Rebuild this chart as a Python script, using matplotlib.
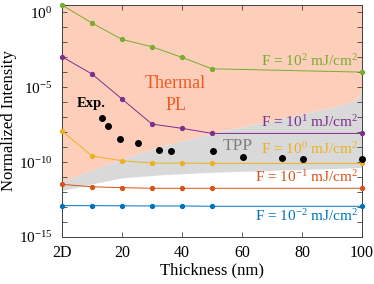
import numpy as np
import matplotlib
matplotlib.use('Agg')
import matplotlib.pyplot as plt
from matplotlib.ticker import FixedLocator, LogFormatterSciNotation, NullFormatter

plt.rcParams['font.family'] = ['Liberation Serif', 'DejaVu Serif']
plt.rcParams['mathtext.fontset'] = 'custom'
plt.rcParams['mathtext.rm'] = 'Liberation Serif'
plt.rcParams['mathtext.it'] = 'Liberation Serif:italic'
plt.rcParams['mathtext.bf'] = 'Liberation Serif:bold'

# thickness (nm), 0 = 2D
thick = [0, 10, 20, 30, 40, 50, 100]

# log10 of normalized intensity for each fluence
log_f2 = [0.47, -0.73, -1.82, -2.31, -3.02, -3.78, -4.0]
log_f1 = [-2.98, -4.13, -5.8, -7.47, -7.75, -8.09, -8.09]
log_f0 = [-7.93, -9.6, -9.91, -10.07, -10.07, -10.09, -10.09]
log_fm1 = [-11.49, -11.65, -11.71, -11.75, -11.75, -11.75, -11.75]
log_fm2 = [-12.91, -12.91, -12.92, -12.93, -12.93, -12.95, -12.95]

# experiment
exp_x = [13.2, 15.4, 19.3, 25.2, 32.3, 36.2, 50.2, 60.2, 73.2, 80.2, 100]
exp_log = [-7.09, -7.58, -8.47, -8.75, -9.18, -9.29, -9.29, -9.69, -9.75, -9.8, -9.78]

# TPP band
band_x = [0, 10, 20, 33, 50, 66, 79, 93, 98, 99.3, 100]
band_lo = [-11.9, -11.45, -11.05, -10.85, -10.68, -10.58, -10.5, -10.42, -10.38, -10.36, -10.35]
band_hi = [-11.3, -10.55, -9.8, -8.95, -8.07, -7.4, -6.85, -6.2, -5.85, -5.45, -4.93]

colors = ['#77AC30', '#7E2F8E', '#EDB120', '#D95319', '#0072BD']
series = [log_f2, log_f1, log_f0, log_fm1, log_fm2]
labels = [r'F = 10$^{2}$ mJ/cm$^{2}$', r'F = 10$^{1}$ mJ/cm$^{2}$',
          r'F = 10$^{0}$ mJ/cm$^{2}$', r'F = 10$^{-1}$ mJ/cm$^{2}$',
          r'F = 10$^{-2}$ mJ/cm$^{2}$']
label_log = [-3.6, -7.67, -9.47, -11.33, -13.93]

fig = plt.figure(figsize=(3.74, 2.84), dpi=100)
ax = fig.add_axes([0.166, 0.1655, 0.802, 0.8165])

bx = np.array(band_x)
lo = 10.0 ** np.array(band_lo)
hi = 10.0 ** np.array(band_hi)
ax.fill_between(bx, hi, 1e3, color='#fdcfbb', lw=0, zorder=0)
ax.fill_between(bx, lo, hi, color='#d9d9d9', lw=0, zorder=0)

for s, c in zip(series, colors):
    ax.plot(thick, 10.0 ** np.array(s), '-o', color=c, lw=0.7, ms=2.8, zorder=3, clip_on=False)

ax.plot(exp_x, 10.0 ** np.array(exp_log), 'o', color='black', ms=4, zorder=4, clip_on=False)

for lab, c, yl in zip(labels, colors, label_log):
    ax.text(98.7, 10 ** yl, lab, color=c, fontsize=11, ha='right', va='baseline', zorder=5)

ax.text(37.7, 10 ** -5.07, 'Thermal', color='#f25a24', fontsize=13, ha='center', va='baseline')
ax.text(38.0, 10 ** -6.53, 'PL', color='#f25a24', fontsize=13, ha='center', va='baseline')
ax.text(9.8, 10 ** -6.33, 'Exp.', color='black', fontsize=10.5, fontweight='bold', ha='center', va='baseline')
ax.text(58.7, 10 ** -9.2, 'TPP', color='#7f7f7f', fontsize=12.5, ha='center', va='baseline')

ax.set_yscale('log')
ax.set_xlim(0, 100)
ax.set_ylim(1e-15, 10 ** 0.47)
ax.set_xticks([0, 20, 40, 60, 80, 100])
ax.set_xticklabels(['2D', '20', '40', '60', '80', '100'])
ax.yaxis.set_major_locator(FixedLocator([1e-15, 1e-10, 1e-5, 1e0]))
ax.yaxis.set_major_formatter(LogFormatterSciNotation())
ax.yaxis.set_minor_locator(FixedLocator([10.0 ** k for k in range(-15, 1)]))
ax.yaxis.set_minor_formatter(NullFormatter())
ax.tick_params(which='both', direction='in', top=True, right=True, color='#404040')
ax.tick_params(which='major', length=3.5, width=0.6)
ax.tick_params(which='minor', length=3.5, width=0.6)
ax.tick_params(axis='x', labelsize=11.5, pad=6)
ax.tick_params(axis='y', labelsize=11, pad=7)
for sp in ax.spines.values():
    sp.set_color('#404040')
    sp.set_linewidth(0.7)

ax.set_xlabel('Thickness (nm)', fontsize=12, labelpad=1)
ax.set_ylabel('Normalized Intensity', fontsize=12, labelpad=1)

fig.savefig('out.png', dpi=100)
